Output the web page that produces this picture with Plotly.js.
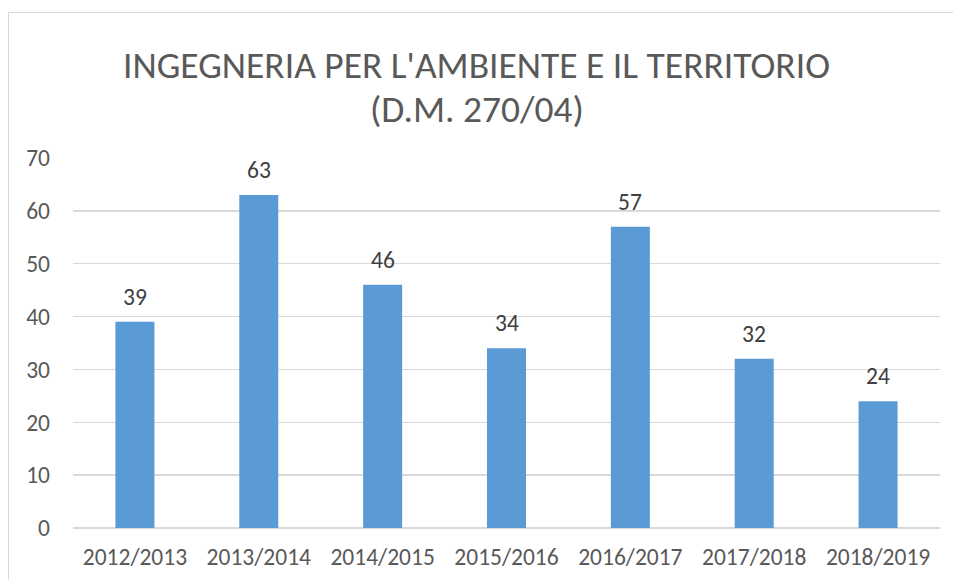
<!DOCTYPE html>
<html>
<head>
<meta charset="utf-8">
<script src="https://cdn.plot.ly/plotly-3.0.1.min.js"></script>
<style>
  html, body { margin: 0; padding: 0; overflow: hidden; background: #ffffff; }
  #frame { position: absolute; left: 8px; top: 12px; width: 1200px; height: 1200px; border: 1.5px solid #d9d9d9; pointer-events: none; z-index: 2; }
  #chart { position: absolute; left: 0; top: 0; width: 953px; height: 580px; }
</style>
</head>
<body>
<div id="chart"></div>
<div id="frame"></div>
<script>
const categories = ["2012/2013", "2013/2014", "2014/2015", "2015/2016", "2016/2017", "2017/2018", "2018/2019"];
const values = [39, 63, 46, 34, 57, 32, 24];
const yTicks = [0, 10, 20, 30, 40, 50, 60, 70];
const titleLine1 = "INGEGNERIA PER L'AMBIENTE E IL TERRITORIO";
const titleLine2 = "(D.M. 270/04)";

const fontFam = "Carlito, 'Open Sans', 'Liberation Sans', sans-serif";

const trace = {
  type: "bar",
  x: categories,
  y: values,
  marker: { color: "#5b9bd5", line: { width: 0 } },
  hoverinfo: "x+y"
};

const annotations = categories.map((c, i) => ({
  x: c, y: values[i], xref: "x", yref: "y",
  text: String(values[i]), showarrow: false,
  yanchor: "middle", yshift: 25,
  font: { family: fontFam, size: 23.5, color: "#404040" }
}));

annotations.push({
  text: titleLine2, showarrow: false,
  xref: "paper", yref: "paper",
  x: (476.5 - 73) / 867, xanchor: "center",
  y: (528 - 109) / 370, yanchor: "middle",
  font: { family: fontFam, size: 37.5, color: "#595959", weight: 300 }
});

const layout = {
  width: 953, height: 580,
  margin: { l: 73, r: 13, t: 158, b: 52 },
  paper_bgcolor: "#ffffff", plot_bgcolor: "#ffffff",
  bargap: 0.685,
  showlegend: false,
  title: {
    text: titleLine1,
    x: 0.5, xref: "container", xanchor: "center",
    y: 1 - 65/580, yref: "container", yanchor: "middle",
    font: { family: fontFam, size: 37.5, color: "#595959", weight: 300 }
  },
  xaxis: {
    type: "category",
    showgrid: false, zeroline: false, showline: false,
    ticks: "", ticklabelstandoff: 12,
    tickfont: { family: fontFam, size: 23.5, color: "#595959" }
  },
  yaxis: {
    range: [0, 70], tickvals: yTicks, ticktext: yTicks.map(String),
    showgrid: true, gridcolor: "#d9d9d9", gridwidth: 1.5,
    zeroline: true, zerolinecolor: "#d9d9d9", zerolinewidth: 1.5,
    showline: false, ticks: "", ticklabelstandoff: 22,
    tickfont: { family: fontFam, size: 23.5, color: "#595959" }
  },
  annotations: annotations
};

Plotly.newPlot("chart", [trace], layout, { displayModeBar: false, staticPlot: true });
</script>
</body>
</html>
